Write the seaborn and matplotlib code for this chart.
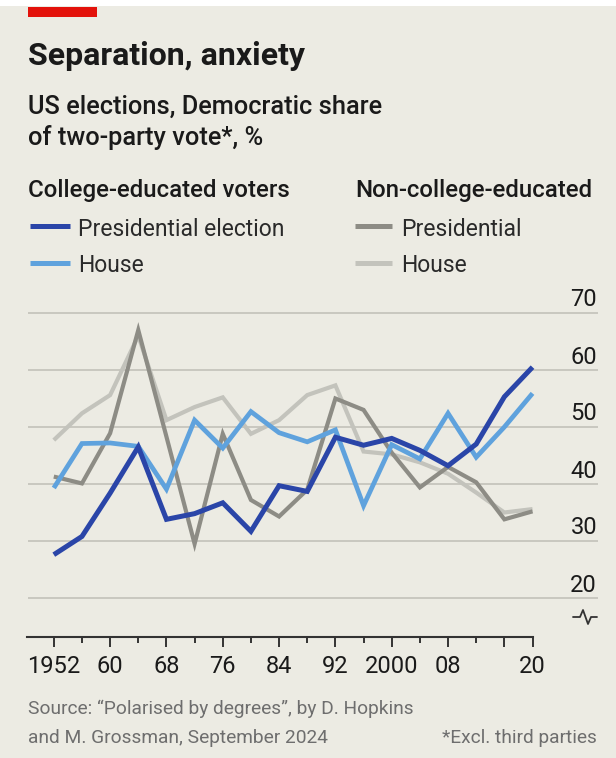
import matplotlib
matplotlib.use("Agg")
import matplotlib.pyplot as plt
import matplotlib.transforms as mtransforms
from matplotlib.lines import Line2D
from matplotlib.patches import Rectangle
import seaborn as sns

# ---------------- data ----------------
years = list(range(1952, 2021, 4))
college_pres = [27.6, 30.8, 38.4, 46.5, 33.8, 34.8, 36.7, 31.7, 39.7, 38.7,
                48.2, 46.8, 48.0, 45.9, 43.2, 47.0, 55.3, 60.5]
college_house = [39.3, 47.1, 47.2, 46.6, 39.1, 51.2, 46.3, 52.7, 49.0, 47.4,
                 49.5, 36.2, 46.9, 44.4, 52.4, 44.7, 50.0, 55.9]
noncollege_pres = [41.3, 40.1, 48.9, 67.0, 48.3, 29.5, 48.8, 37.2, 34.3, 39.0,
                   55.0, 53.0, 45.5, 39.4, 43.0, 40.3, 33.8, 35.2]
noncollege_house = [47.7, 52.4, 55.6, 66.0, 51.2, 53.5, 55.2, 48.8, 51.2, 55.6,
                    57.3, 45.7, 45.2, 43.8, 41.8, 38.5, 35.0, 35.6]

x_major = [1952, 1960, 1968, 1976, 1984, 1992, 2000, 2008, 2016, 2020]
x_labels = ["1952", "60", "68", "76", "84", "92", "2000", "08", "", "20"]
x_minor = [1956, 1964, 1972, 1980, 1988, 1996, 2004, 2012]
y_ticks = [20, 30, 40, 50, 60, 70]

# ---------------- style ----------------
BG = "#ECEBE3"
GRID = "#C9C8C0"
DBLUE = "#2A45A8"
LBLUE = "#5FA2DD"
DGREY = "#8D8C85"
LGREY = "#C3C3BC"
TXT = "#1A1A1A"
AXC = "#333333"

W, H = 616, 758
sns.set_style("white")
plt.rcParams['font.family'] = ['Roboto', 'DejaVu Sans']

fig = plt.figure(figsize=(W / 100, H / 100), dpi=100)
fig.patch.set_facecolor(BG)


def fx(x):
    return x / W


def fy(y):
    return 1 - y / H


# top white strip and red bar
fig.add_artist(Rectangle((0, fy(6)), 1, 6 / H, transform=fig.transFigure,
                         color="white", lw=0))
fig.add_artist(Rectangle((fx(28), fy(17)), 69 / W, 10 / H,
                         transform=fig.transFigure, color="#E3120B", lw=0))

# ---------------- axes ----------------
x_left, x_right = 27.5, 598
y_top, y_bot = 290, 637
ax = fig.add_axes([fx(x_left), fy(y_bot), (x_right - x_left) / W,
                   (y_bot - y_top) / H])
ax.set_facecolor("none")

px_per_year = 7.04
xmin = 1952 - (53.8 - x_left) / px_per_year
xmax = 1952 + (x_right - 53.8) / px_per_year
px_per_unit = 5.7
ymin = 20 - (y_bot - 598) / px_per_unit
ymax = 70 + (313 - y_top) / px_per_unit
ax.set_xlim(xmin, xmax)
ax.set_ylim(ymin, ymax)

for v in y_ticks:
    ax.axhline(v, color=GRID, lw=1.4, zorder=1)

ylab_tr = mtransforms.blended_transform_factory(ax.transAxes, ax.transData) + \
    mtransforms.ScaledTranslation(-0.01, 0.065, fig.dpi_scale_trans)
for v in y_ticks:
    ax.text(1.0, v, str(v), transform=ylab_tr, ha="right", va="baseline",
            fontsize=17, color=TXT)

# lines
series = [
    (noncollege_house, LGREY, 3.0),
    (noncollege_pres, DGREY, 3.0),
    (college_house, LBLUE, 3.4),
    (college_pres, DBLUE, 3.6),
]
for z, (vals, col, lw) in enumerate(series):
    sns.lineplot(x=years, y=vals, ax=ax, color=col, lw=lw, zorder=3 + z,
                 solid_joinstyle="miter", solid_capstyle="butt")

# x axis
ax.set_yticks([])
ax.set_xticks(x_major)
ax.set_xticklabels(x_labels)
ax.set_xticks(x_minor, minor=True)
ax.tick_params(axis="x", which="both", bottom=True, top=False)
ax.tick_params(axis="x", which="major", direction="out", length=7.2,
               width=1.4, color=AXC, pad=5.5, labelsize=17, labelcolor=TXT)
ax.tick_params(axis="x", which="minor", direction="out", length=4.3,
               width=1.4, color=AXC)
for s in ["left", "right", "top"]:
    ax.spines[s].set_visible(False)
ax.spines["bottom"].set_color(AXC)
ax.spines["bottom"].set_linewidth(1.5)
ax.spines["bottom"].set_bounds(xmin, 2020)
ax.set_xlabel("")
ax.set_ylabel("")

# axis break symbol
bx = [573, 580, 583, 588, 591, 597]
by = [617, 617, 610, 624, 617, 617]
fig.add_artist(Line2D([fx(v) for v in bx], [fy(v) for v in by],
                      transform=fig.transFigure, color=AXC, lw=1.3))

# ---------------- text ----------------
fig.text(fx(28), fy(65), "Separation, anxiety", fontsize=23,
         fontweight="bold", color=TXT, ha="left", va="baseline")
fig.text(fx(28), fy(114), "US elections, Democratic share", fontsize=18.3,
         fontweight="medium", color=TXT, ha="left", va="baseline")
fig.text(fx(28), fy(145), "of two-party vote*, %", fontsize=18.3,
         fontweight="medium", color=TXT, ha="left", va="baseline")

fig.text(fx(28), fy(197), "College-educated voters", fontsize=17.3,
         fontweight="medium", color=TXT, ha="left", va="baseline")
fig.text(fx(355), fy(197), "Non-college-educated", fontsize=17.3,
         fontweight="medium", color=TXT, ha="left", va="baseline")

legend_items = [
    (30, 70, 78, 226, 236, "Presidential election", DBLUE),
    (30, 70, 78, 263, 272, "House", LBLUE),
    (355, 392, 401, 226, 236, "Presidential", DGREY),
    (355, 392, 401, 263, 272, "House", LGREY),
]
for x0, x1, tx, ly, ty, lab, col in legend_items:
    fig.add_artist(Line2D([fx(x0), fx(x1)], [fy(ly), fy(ly)],
                          transform=fig.transFigure, color=col, lw=3.6,
                          solid_capstyle="butt"))
    fig.text(fx(tx), fy(ty), lab, fontsize=16.5, color="#2A2A2A",
             ha="left", va="baseline")

SRC = "#6E6E6E"
fig.text(fx(28), fy(714), "Source: \u201cPolarised by degrees\u201d, by D. Hopkins",
         fontsize=13.8, color=SRC, ha="left", va="baseline")
fig.text(fx(28), fy(743), "and M. Grossman, September 2024",
         fontsize=13.8, color=SRC, ha="left", va="baseline")
fig.text(fx(597), fy(743), "*Excl. third parties",
         fontsize=13.8, color=SRC, ha="right", va="baseline")

fig.savefig("out.png", dpi=100, facecolor=BG)
